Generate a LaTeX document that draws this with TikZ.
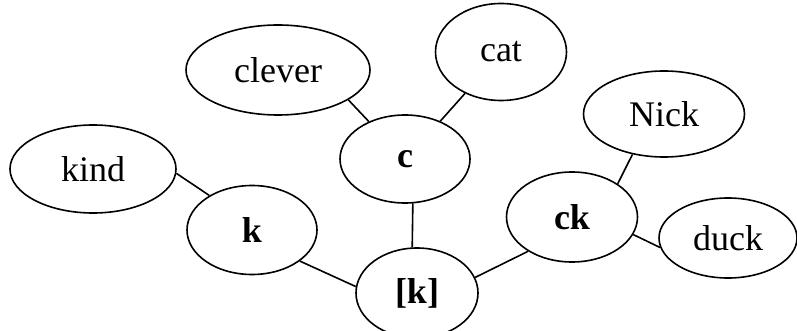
\documentclass[tikz,border=0pt]{standalone}
\usepackage{fontspec}
\setmainfont{Liberation Serif}
\usetikzlibrary{shapes.geometric}

\tikzset{
  word/.style={ellipse, draw, inner sep=0pt,
    font=\fontsize{36}{40}\selectfont},
  unit/.style={word, font=\fontsize{36}{40}\selectfont\bfseries},
}

\begin{document}
\begin{tikzpicture}[%
  x=1pt, y=-1pt,
  line width=1.6pt,
]

  \useasboundingbox (0,0) rectangle (797,331);

  \node[word, minimum width=184, minimum height=90] (clever) at (278,70) {clever};
  \node[word, minimum width=131, minimum height=97] (cat) at (501,52) {cat};
  \node[word, minimum width=166, minimum height=88] (kind) at (93,169) {kind};
  \node[word, minimum width=161, minimum height=86] (nick) at (664,114) {Nick};
  \node[word, minimum width=138, minimum height=80] (duck) at (728,238) {duck};

  \node[unit, minimum width=130, minimum height=88] (c) at (405,159) {c};
  \node[unit, minimum width=130, minimum height=89] (k) at (252,230) {k};
  \node[unit, minimum width=131, minimum height=90] (ck) at (572,217) {ck};
  \node[unit, minimum width=122, minimum height=90] (kk) at (417,293) {[k]};

  % the lines do not meet at the centres
  \draw (clever.-23) -- (c.134);
  \draw (cat.229) -- (c.47);
  \draw (kind.-3) -- (k.141);
  \draw (c.-80) -- (kk.96);
  \draw (k.-33) -- (kk.174);
  \draw (kk.15) -- (ck.218);
  \draw (nick.232) -- (ck.36);
  \draw (ck.-16) -- (duck.188);

\end{tikzpicture}
\end{document}
